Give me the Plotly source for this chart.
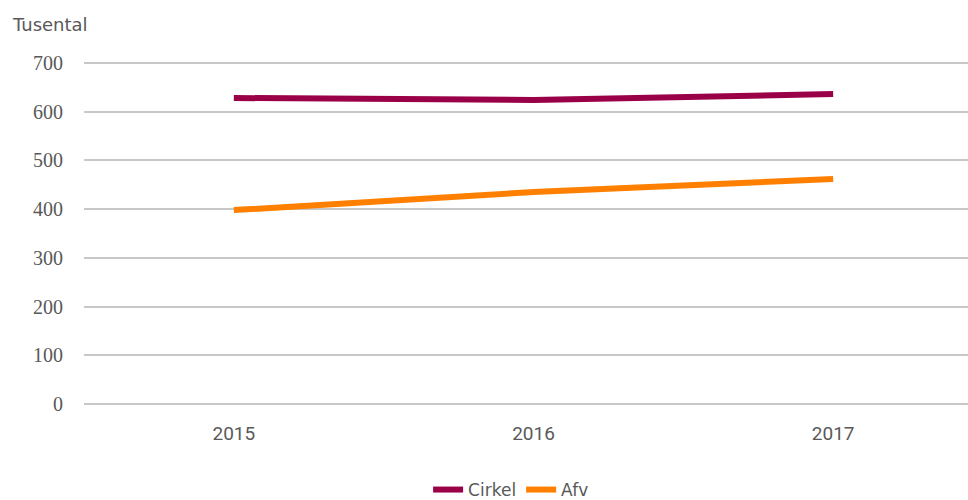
import plotly.graph_objects as go

years = ["2015", "2016", "2017"]
cirkel = [628, 624, 636]
afv = [398, 435, 462]
y_ticks = [0, 100, 200, 300, 400, 500, 600, 700]

fig = go.Figure()
fig.add_trace(go.Scatter(x=years, y=cirkel, mode="lines", name="Cirkel",
                         line=dict(color="#990048", width=6)))
fig.add_trace(go.Scatter(x=years, y=afv, mode="lines", name="Afv",
                         line=dict(color="#FF8000", width=6)))

fig.update_layout(
    width=968, height=500,
    margin=dict(l=84, r=0, t=59, b=92),
    paper_bgcolor="white", plot_bgcolor="white",
    showlegend=True,
    legend=dict(orientation="h", xref="container", x=0.528, xanchor="center",
                yref="container", y=0.02, yanchor="middle",
                font=dict(family="DejaVu Sans, sans-serif", size=17, color="#595959"),
                tracegroupgap=0),
    xaxis=dict(type="category", range=[-0.5, 2.45], showgrid=False,
               showline=False, zeroline=False,
               tickfont=dict(family="Roboto, sans-serif", size=19, color="#595959"),
               ticks="", ticklabelstandoff=12),
    yaxis=dict(range=[-8, 708], tickvals=y_ticks, showgrid=True,
               gridcolor="#c8c8c8", gridwidth=1.5, zeroline=False, showline=False,
               tickfont=dict(family="Liberation Serif, serif", size=20, color="#595959"),
               ticklabelstandoff=20),
    annotations=[dict(text="Tusental", xref="paper", yref="paper",
                      x=(10 - 84) / 884, y=1 + (59 - 25) / 349, xanchor="left", yanchor="middle",
                      showarrow=False,
                      font=dict(family="DejaVu Sans, sans-serif", size=18, color="#595959"))],
)

fig.write_html("out.html", post_script="document.body.style.margin='0';",
               config={"displayModeBar": False})
